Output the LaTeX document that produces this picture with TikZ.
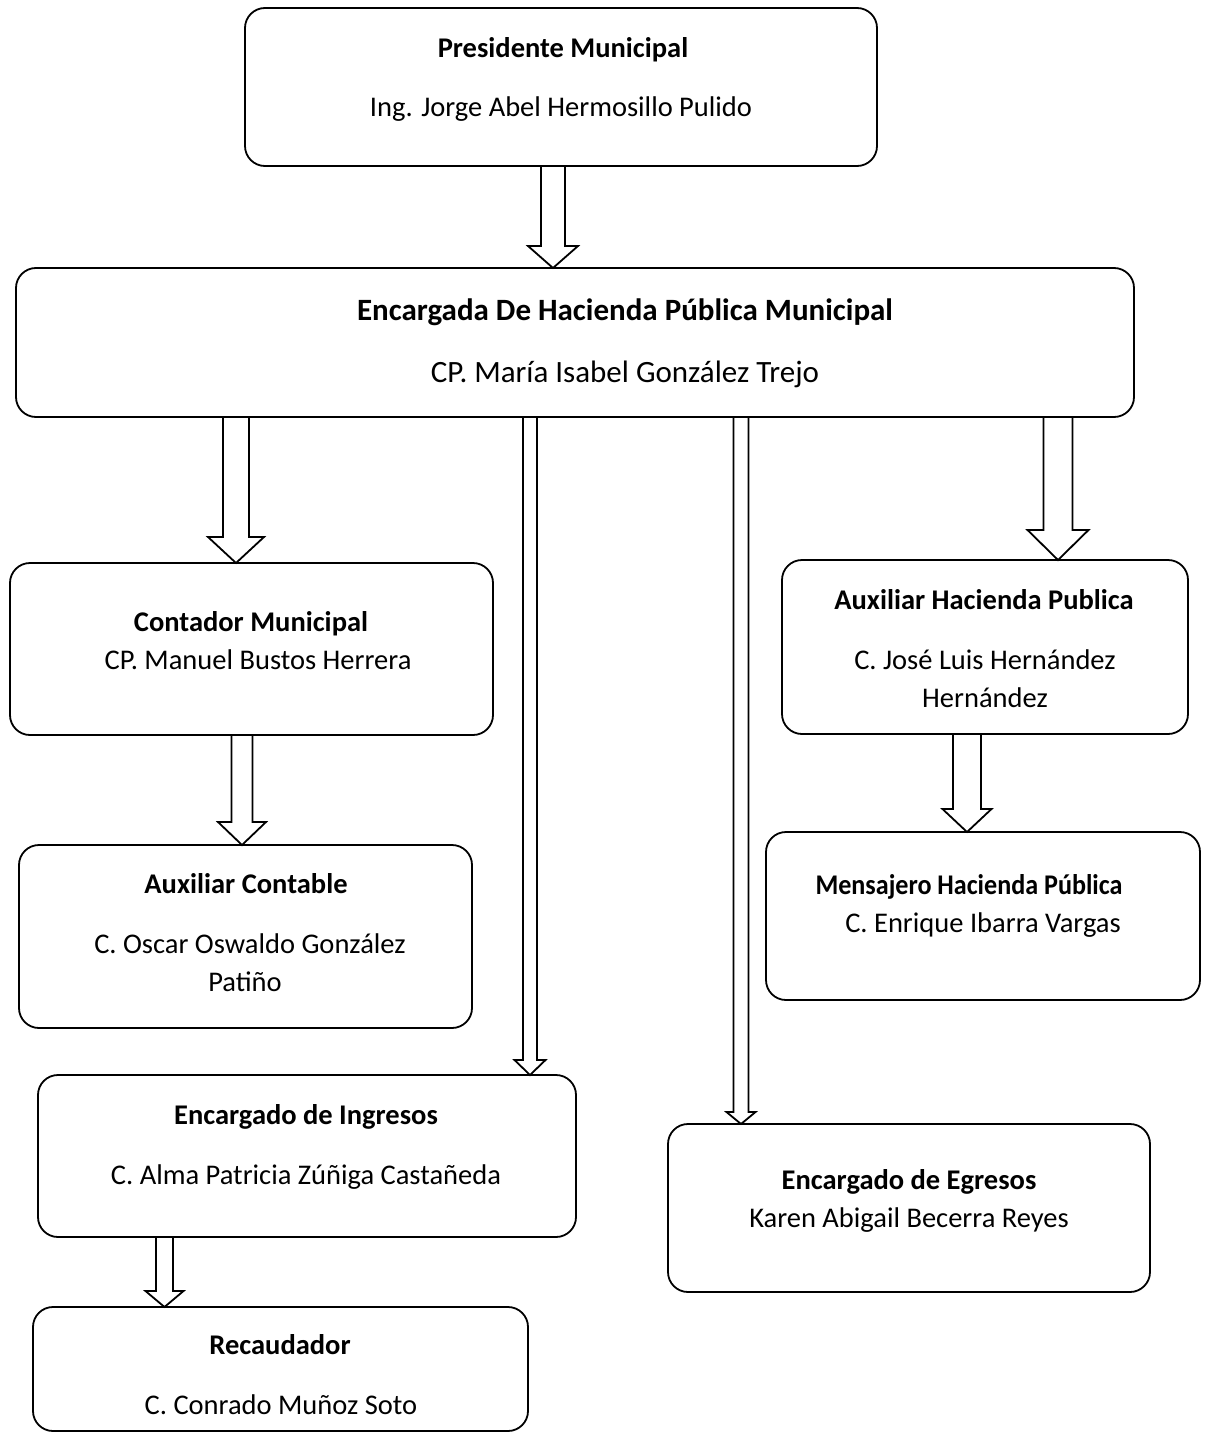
\documentclass[tikz,border=0pt]{standalone}
\usepackage{fontspec}
\usepackage{graphicx}
\setmainfont{Carlito}
\usetikzlibrary{calc}
\newcommand{\barr}[6]{%
  \draw[blockarrow] let \p1=(#1.south), \p2=(#2.north) in
    ({(#3-#4)*1pt},\y1) -- ({(#3-#4)*1pt},{\y2+#6pt}) -- ({(#3-#5)*1pt},{\y2+#6pt})
    -- ({#3*1pt},\y2) -- ({(#3+#5)*1pt},{\y2+#6pt}) -- ({(#3+#4)*1pt},{\y2+#6pt})
    -- ({(#3+#4)*1pt},\y1);}
\begin{document}
\begin{tikzpicture}[x=1pt,y=-1pt,
  box/.style={draw, line width=1.8pt, rounded corners=20pt, inner sep=0pt, outer sep=0pt, anchor=north west},
  blockarrow/.style={draw, line width=1.8pt, line join=miter},
  ttl/.style={font=\fontsize{28.5}{34}\selectfont\bfseries, inner sep=0pt, anchor=base},
  nme/.style={font=\fontsize{28.5}{34}\selectfont, inner sep=0pt, anchor=base},
  bigttl/.style={font=\fontsize{31}{37}\selectfont\bfseries, inner sep=0pt, anchor=base},
  bignme/.style={font=\fontsize{31}{37}\selectfont, inner sep=0pt, anchor=base}]
\useasboundingbox (0,0) rectangle (1204,1434);
% boxes
\node[box, minimum width=632pt, minimum height=158pt] (pres) at (245,8) {};
\node[box, minimum width=1118pt, minimum height=149pt] (hac) at (16,268) {};
\node[box, minimum width=483pt, minimum height=172pt] (cont) at (10,563) {};
\node[box, minimum width=453pt, minimum height=183pt] (auxc) at (19,845) {};
\node[box, minimum width=538pt, minimum height=162pt] (ing) at (38,1075) {};
\node[box, minimum width=495pt, minimum height=124pt] (rec) at (33,1307) {};
\node[box, minimum width=406pt, minimum height=174pt] (auxh) at (782,560) {};
\node[box, minimum width=434pt, minimum height=168pt] (men) at (766,832) {};
\node[box, minimum width=482pt, minimum height=168pt] (egr) at (668,1124) {};
% texts
\node[ttl] (pres1) at (563,58) {Presidente Municipal};
\node[nme] (pres2) at (561,117) {Ing. Jorge Abel Hermosillo Pulido};
\node[bigttl] (hac1) at (625,320) {Encargada De Hacienda Pública Municipal};
\node[bignme] (hac2) at (625,382) {CP. María Isabel González Trejo};
\node[ttl] (cont1) at (251,631) {Contador Municipal};
\node[nme] (cont2) at (258,669) {CP. Manuel Bustos Herrera};
\node[ttl] (auxc1) at (246,893) {Auxiliar Contable};
\node[nme] (auxc2) at (250,953) {C. Oscar Oswaldo González};
\node[nme] (auxc3) at (245,991) {Patiño};
\node[ttl] (ing1) at (306,1124) {Encargado de Ingresos};
\node[nme] (ing2) at (306,1184) {C. Alma Patricia Zúñiga Castañeda};
\node[ttl] (rec1) at (280,1354) {Recaudador};
\node[nme] (rec2) at (281,1414) {C. Conrado Muñoz Soto};
\node[ttl] (auxh1) at (984,609) {Auxiliar Hacienda Publica};
\node[nme] (auxh2) at (985,669) {C. José Luis Hernández};
\node[nme] (auxh3) at (985,707) {Hernández};
\node[ttl] (men1) at (969,894) {\scalebox{0.916}[1]{Mensajero Hacienda Pública}};
\node[nme] (men2) at (983,932) {C. Enrique Ibarra Vargas};
\node[ttl] (egr1) at (909,1189) {Encargado de Egresos};
\node[nme] (egr2) at (909,1227) {Karen Abigail Becerra Reyes};
% arrows
\barr{pres}{hac}{553}{12}{25}{22}
\barr{hac}{cont}{236}{13}{28}{26}
\barr{hac}{ing}{530}{7}{15.5}{15}
\barr{hac}{egr}{741}{7.5}{14.5}{12}
\barr{hac}{auxh}{1058}{14.5}{30.5}{30}
\barr{cont}{auxc}{242}{10.5}{24}{23}
\barr{auxh}{men}{967}{14}{24.5}{23}
\barr{ing}{rec}{164.5}{8.5}{19}{16}
\end{tikzpicture}
\end{document}
